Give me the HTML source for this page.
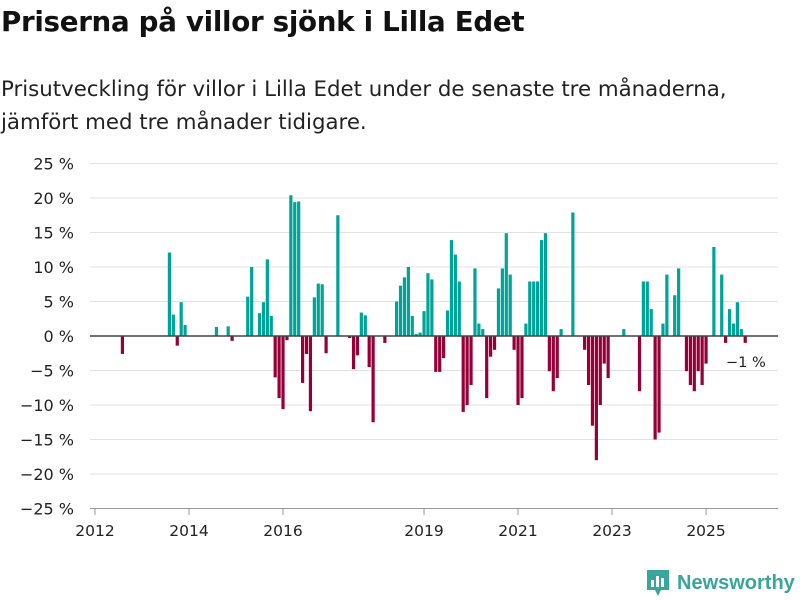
<!DOCTYPE html>
<html><head><meta charset="utf-8"><style>
body{margin:0;width:800px;height:600px;background:#fff;font-family:"Liberation Sans","DejaVu Sans",sans-serif;color:#111;overflow:hidden;position:relative}
h1{position:absolute;left:1px;top:5px;margin:0;font-family:"DejaVu Sans",sans-serif;font-size:27.7px;font-weight:bold;letter-spacing:-0.3px}
.sub{position:absolute;left:1px;top:73px;margin:0;font-family:"DejaVu Sans",sans-serif;font-size:21.3px;line-height:33px;color:#222}
svg{position:absolute;left:0;top:0}
</style></head><body>
<h1>Priserna på villor sjönk i Lilla Edet</h1>
<p class="sub">Prisutveckling för villor i Lilla Edet under de senaste tre månaderna,<br>jämfört med tre månader tidigare.</p>
<svg id="chart" width="800" height="600"></svg>
<script>
// months since Jan 2012
const monthIdx=[7,19,20,21,22,23,31,34,35,39,40,42,43,44,45,46,47,48,49,50,51,52,53,54,55,56,57,58,59,62,65,66,67,68,69,70,71,74,77,78,79,80,81,82,83,84,85,86,87,88,89,90,91,92,93,94,95,96,97,98,99,100,101,102,103,104,105,106,107,108,109,110,111,112,113,114,115,116,117,118,119,122,125,126,127,128,129,130,131,135,139,140,141,142,143,144,145,146,148,149,151,152,153,154,155,156,158,160,161,162,163,164,165,166];
const values=[-2.6,12.1,3.1,-1.4,4.9,1.6,1.3,1.4,-0.7,5.7,10,3.3,4.9,11.1,2.9,-6,-9,-10.6,-0.6,20.4,19.4,19.5,-6.8,-2.6,-10.9,5.6,7.6,7.5,-2.5,17.5,-0.3,-4.8,-2.8,3.4,3.0,-4.5,-12.5,-1,5,7.3,8.5,10,2.9,0.3,0.5,3.6,9.1,8.2,-5.2,-5.2,-3.2,3.7,13.9,11.8,7.9,-11,-10,-7.1,9.8,1.8,1,-9,-3,-2,6.9,9.8,14.9,8.9,-2,-10,-9,1.8,7.9,7.9,7.9,13.9,14.9,-5.1,-8,-6.1,1,17.9,-2,-7.1,-13,-18,-10,-4,-6.1,1,-8,7.9,7.9,3.9,-15,-14,1.8,8.9,5.9,9.8,-5.1,-7.1,-8,-5.1,-7.1,-4,12.9,8.9,-1,3.9,1.8,4.9,1,-1];
const yTicks=[25,20,15,10,5,0,-5,-10,-15,-20,-25];
const xTickYears=[2012,2014,2016,2019,2021,2023,2025];
const NS="http://www.w3.org/2000/svg";
const svg=document.getElementById('chart');
const y=v=>336-v*6.9;
const x=m=>95+m*3.917;
function mk(t,a){const e=document.createElementNS(NS,t);for(const k in a)e.setAttribute(k,a[k]);svg.appendChild(e);return e;}
yTicks.forEach(t=>{
  const l=mk('line',{x1:90,x2:778,y1:y(t),y2:y(t),stroke:t===-25?'#999':'#e2e2e2','stroke-width':1});
  
  
  const tx=mk('text',{x:74,y:y(t)+6,'text-anchor':'end','font-size':16,fill:'#222','font-family':'DejaVu Sans, sans-serif'});
  tx.textContent=(t<0?'−'+(-t):t)+' %';
  
  
});
xTickYears.forEach(yr=>{
  const xx=x((yr-2012)*12);
  const tk=mk('line',{x1:xx,x2:xx,y1:509,y2:515,stroke:'#999'});
  
  
  const tx=mk('text',{x:xx,y:536,'text-anchor':'middle','font-size':15.5,fill:'#222','font-family':'DejaVu Sans, sans-serif'});
  tx.textContent=yr;
  
  
});
monthIdx.forEach((m,i)=>{
  const v=values[i];
  const r=mk('rect',{x:x(m)-1.6,width:3.2,y:Math.min(y(v),336),height:Math.abs(y(v)-336),fill:v>=0?'#00a398':'#960039'});
  
  
});
const z=mk('line',{x1:90,x2:778,y1:336,y2:336,stroke:'#444','stroke-width':1.6});


const an=mk('text',{x:726,y:367,'font-size':14.5,fill:'#222','font-family':'DejaVu Sans, sans-serif'});
an.textContent='−1 %';


</script>
<div style="position:absolute;left:645px;top:568px;height:30px;display:flex;align-items:center">
<svg width="26" height="30" viewBox="0 0 26 30" style="position:static"><path d="M2 2h22v20h-8l-3 6-3-6H2z" fill="#3aa59b"/><rect x="6" y="12" width="3" height="7" fill="#fff"/><rect x="11" y="8" width="3" height="11" fill="#fff"/><rect x="16" y="10" width="3" height="9" fill="#fff"/></svg>
<span style="font-size:20px;font-weight:bold;color:#3aa59b;margin-left:6px">Newsworthy</span></div>
</body></html>
